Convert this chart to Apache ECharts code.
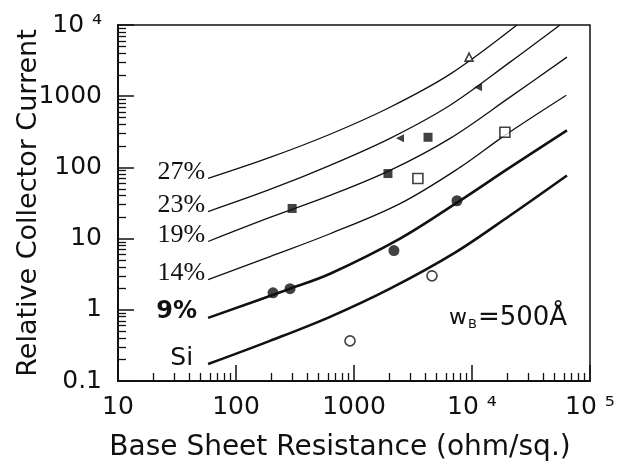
<!DOCTYPE html>
<html>
<head>
<meta charset="utf-8" />
<title>Relative Collector Current</title>
<script src="https://cdn.jsdelivr.net/npm/echarts/dist/echarts.min.js"></script>
<style>html, body { margin: 0; padding: 0; background: #fff; }</style>
</head>
<body>
<div id="main" style="width: 619px; height: 465px;"></div>
<script type="text/javascript">
// curves: [sheet resistance (ohm/sq.), relative collector current]
var curve27 = [[58, 70], [194, 138], [627, 292], [2020, 700], [6520, 2040], [24000, 10000]];
var curve23 = [[58, 24], [194, 49], [627, 107], [2020, 256], [6520, 747], [21000, 3010], [55700, 10000]];
var curve19 = [[58, 9.1], [194, 19.8], [627, 40.4], [2020, 90.8], [6520, 256], [21000, 970], [63800, 3540]];
var curve14 = [[58, 2.65], [194, 5.6], [627, 11.7], [2455, 31], [7910, 100], [19000, 282], [63000, 1030]];
var curve9 = [[58, 0.77], [287, 1.98], [627, 3.21], [2455, 10.0], [7460, 32], [21000, 100], [63800, 332]];
var curveSi = [[58, 0.173], [194, 0.366], [627, 0.796], [2020, 1.98], [7180, 6.35], [21000, 21.1], [63800, 77]];

// measured points
var filledCircles = [[206, 1.73], [287, 1.98], [2180, 6.8], [7460, 34]];
var openCircles = [[925, 0.366], [4580, 3.0]];
var filledSquares = [[299, 26.5], [1940, 82], [4240, 265]];
var openSquares = [[3480, 70], [19000, 311]];
var filledTriangles = [[2455, 256], [11250, 1340]];
var openTriangles = [[9440, 3540]];

// ticks
var xMajor = [10, 100, 1000, 10000, 100000];
var xLabels = ['10', '100', '1000', '10 \u2074', '10 \u2075'];
var xMinor = [20, 30, 40, 50, 60, 70, 80, 90, 200, 300, 400, 500, 600, 700, 800, 900,
  2000, 3000, 4000, 5000, 6000, 7000, 8000, 9000, 20000, 30000, 40000, 50000, 60000, 70000, 80000, 90000];
var yMajor = [0.1, 1, 10, 100, 1000, 10000];
var yLabels = ['0.1', '1', '10', '100', '1000', '10 \u2074'];
var yMinor = [0.2, 0.3, 0.4, 0.5, 0.6, 0.7, 0.8, 0.9, 2, 3, 4, 5, 6, 7, 8, 9,
  20, 30, 40, 50, 60, 70, 80, 90, 200, 300, 400, 500, 600, 700, 800, 900,
  2000, 3000, 4000, 5000, 6000, 7000, 8000, 9000];

var curveNames = ['27%', '23%', '19%', '14%', '9%', 'Si'];

var myChart = echarts.init(document.getElementById('main'));

var serifLabel = { fontFamily: 'Liberation Serif', fontSize: 26, color: '#111' };

function labelFor(values, ticks, v) {
  for (var i = 0; i < ticks.length; i++) {
    if (Math.abs(Math.log10(v) - Math.log10(ticks[i])) < 1e-6) return values[i];
  }
  return '';
}

function curveSeries(name, data, width, labelStyle) {
  return {
    name: name,
    type: 'line',
    smooth: 0.35,
    symbol: 'circle',
    symbolSize: 0,
    silent: true,
    lineStyle: { color: '#111', width: width },
    itemStyle: { color: '#111' },
    data: data.map(function (p, i) {
      if (i !== 0) return p;
      return {
        value: p,
        label: Object.assign({
          show: true, position: 'left', distance: 3, offset: [0, -6], formatter: name
        }, labelStyle)
      };
    })
  };
}

function markSeries(data, symbol, size, filled, rotate) {
  return {
    type: 'scatter',
    data: data,
    symbol: symbol,
    symbolSize: size,
    symbolRotate: rotate || 0,
    silent: true,
    itemStyle: {
      color: filled ? '#111' : '#fff',
      borderColor: '#111',
      borderWidth: filled ? 0 : 1.6
    },
    z: 5
  };
}

var axisFont = { fontFamily: 'DejaVu Sans', fontSize: 25, color: '#111' };

var option = {
  animation: false,
  grid: {
    left: 118, right: 29, top: 25, bottom: 84,
    outerBoundsMode: 'none',
    containLabel: false,
    show: true, borderColor: '#111', borderWidth: 1.5
  },
  xAxis: [
    {
      type: 'log', logBase: 10, min: 10, max: 100000, position: 'bottom',
      name: 'Base Sheet Resistance (ohm/sq.)',
      nameLocation: 'middle', nameGap: 53,
      nameTextStyle: { fontFamily: 'DejaVu Sans', fontSize: 28, color: '#111', padding: [0, 28, 0, 0] },
      axisLine: { lineStyle: { color: '#111', width: 2 } },
      axisTick: { inside: true, length: 16, customValues: xMajor, lineStyle: { color: '#111', width: 1.5 } },
      axisLabel: Object.assign({
        margin: 14, customValues: xMajor,
        formatter: function (v) { return labelFor(xLabels, xMajor, v); }
      }, axisFont),
      splitLine: { show: false }
    },
    {
      type: 'log', logBase: 10, min: 10, max: 100000, position: 'bottom',
      axisLine: { show: false },
      axisTick: { inside: true, length: 8, customValues: xMinor, lineStyle: { color: '#111', width: 1.3 } },
      axisLabel: { show: false },
      splitLine: { show: false }
    }
  ],
  yAxis: [
    {
      type: 'log', logBase: 10, min: 0.1, max: 10000, position: 'left',
      name: 'Relative Collector Current',
      nameLocation: 'middle', nameGap: 76, nameMoveOverlap: false,
      nameTextStyle: { fontFamily: 'DejaVu Sans', fontSize: 27, color: '#111' },
      axisLine: { lineStyle: { color: '#111', width: 2 } },
      axisTick: { inside: true, length: 16, customValues: yMajor, lineStyle: { color: '#111', width: 1.5 } },
      axisLabel: Object.assign({
        margin: 16, customValues: yMajor,
        formatter: function (v) { return labelFor(yLabels, yMajor, v); }
      }, axisFont),
      splitLine: { show: false }
    },
    {
      type: 'log', logBase: 10, min: 0.1, max: 10000, position: 'left',
      axisLine: { show: false },
      axisTick: { inside: true, length: 8, customValues: yMinor, lineStyle: { color: '#111', width: 1.3 } },
      axisLabel: { show: false },
      splitLine: { show: false }
    }
  ],
  graphic: [
    {
      type: 'text', left: 449, top: 305, silent: true,
      style: {
        text: '{w|w}{b|B}{e|=500\u00c5}',
        fill: '#111',
        rich: {
          w: { fontFamily: 'DejaVu Sans', fontSize: 22, color: '#111' },
          b: { fontFamily: 'DejaVu Sans', fontSize: 13, color: '#111', padding: [14, 1, 0, 1] },
          e: { fontFamily: 'DejaVu Sans', fontSize: 26, color: '#111' }
        }
      }
    }
  ],
  series: [
    curveSeries(curveNames[0], curve27, 1.3, serifLabel),
    curveSeries(curveNames[1], curve23, 1.3, serifLabel),
    curveSeries(curveNames[2], curve19, 1.3, serifLabel),
    curveSeries(curveNames[3], curve14, 1.3, serifLabel),
    curveSeries(curveNames[4], curve9, 2.6, { fontFamily: 'DejaVu Sans', fontWeight: 'bold', fontSize: 24, color: '#111', offset: [-8, -6] }),
    curveSeries(curveNames[5], curveSi, 2.6, { fontFamily: 'DejaVu Sans', fontSize: 25, color: '#111', offset: [-12, -6] }),
    markSeries(filledCircles, 'circle', 11, true),
    markSeries(openCircles, 'circle', 10, false),
    markSeries(filledSquares, 'rect', 9, true),
    markSeries(openSquares, 'rect', 10, false),
    markSeries(filledTriangles, 'triangle', 8, true, 90),
    markSeries(openTriangles, 'triangle', 8, false)
  ]
};

myChart.setOption(option);
</script>
</body>
</html>
